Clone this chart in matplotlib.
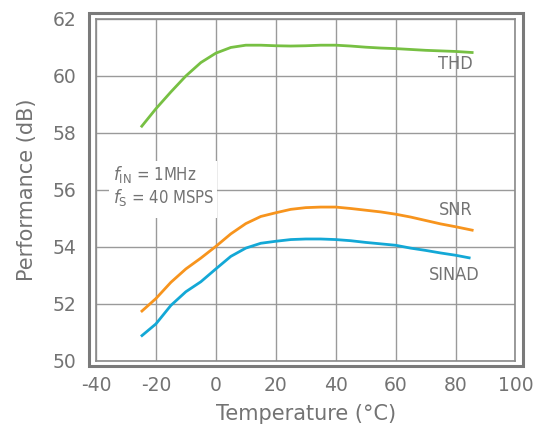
import matplotlib
matplotlib.use("Agg")
import matplotlib.pyplot as plt
from matplotlib.patches import Rectangle

plt.rcParams["axes.unicode_minus"] = False

# temperature (degC) and performance (dB)
temp_thd = [-25, -20, -15, -10, -5, 0, 5, 10, 15, 20, 25, 30, 35, 40, 45, 50,
            55, 60, 65, 70, 75, 80, 86]
thd = [58.2, 58.85, 59.44, 60.0, 60.47, 60.8, 61.0, 61.08, 61.08, 61.06, 61.05,
       61.06, 61.08, 61.08, 61.05, 61.01, 60.98, 60.96, 60.93, 60.9, 60.88,
       60.86, 60.82]

temp_snr = [-25, -20, -15, -10, -5, 0, 5, 10, 15, 20, 25, 30, 35, 40, 45, 50,
            55, 60, 65, 70, 75, 80, 86]
snr = [51.72, 52.19, 52.76, 53.23, 53.61, 54.02, 54.46, 54.82, 55.07, 55.2,
       55.32, 55.38, 55.4, 55.4, 55.35, 55.29, 55.23, 55.15, 55.05, 54.93,
       54.81, 54.71, 54.58]

temp_sinad = [-25, -20, -15, -10, -5, 0, 5, 10, 15, 20, 25, 30, 35, 40, 45, 50,
              55, 60, 65, 70, 75, 80, 85]
sinad = [50.86, 51.3, 51.95, 52.43, 52.78, 53.23, 53.67, 53.96, 54.13, 54.2,
         54.26, 54.28, 54.28, 54.26, 54.22, 54.16, 54.11, 54.06, 53.96, 53.88,
         53.79, 53.71, 53.61]

xticks = [-40, -20, 0, 20, 40, 60, 80, 100]
yticks = [50, 52, 54, 56, 58, 60, 62]

txt = "#737373"
grid_c = "#9a9a9a"

fig = plt.figure(figsize=(5.35, 4.32), dpi=100)
ax = fig.add_axes([0.1794, 0.1644, 0.7841, 0.7917])

ax.plot(temp_thd, thd, color="#77c043", lw=2.0, zorder=4, solid_capstyle="butt")
ax.plot(temp_snr, snr, color="#f7941d", lw=2.0, zorder=4, solid_capstyle="butt")
ax.plot(temp_sinad, sinad, color="#13a8d6", lw=2.0, zorder=4, solid_capstyle="butt")

ax.set_xlim(-40, 100)
ax.set_ylim(50, 62)
ax.set_xticks(xticks)
ax.set_yticks(yticks)
ax.grid(True, color=grid_c, lw=1.0, zorder=1)
ax.set_axisbelow(True)
ax.tick_params(length=0, labelsize=13.5, colors=txt)
ax.tick_params(axis="x", pad=11)
ax.tick_params(axis="y", pad=14)
for s in ax.spines.values():
    s.set_color("#8a8a8a")
    s.set_linewidth(1.2)

ax.set_xlabel("Temperature (\u00b0C)", fontsize=15, color=txt, labelpad=6)
ax.set_ylabel("Performance (dB)", fontsize=15, color=txt, labelpad=11)

# outer frame
fig.patches.append(Rectangle((0.1664, 0.1528), 0.8112, 0.8171, fill=False,
                             edgecolor="#7a7a7a", lw=2.2,
                             transform=fig.transFigure))

# white box behind the conditions note
ax.add_patch(Rectangle((-35.5, 55.0), 36, 2.0, facecolor="white",
                       edgecolor="none", zorder=2))
ax.text(-34.2, 56.53, r"$f_{\mathrm{IN}}$ = 1MHz", fontsize=12, color=txt,
        va="center", ha="left", zorder=3, stretch="condensed")
ax.text(-34.2, 55.72, r"$f_{\mathrm{S}}$ = 40 MSPS", fontsize=12, color=txt,
        va="center", ha="left", zorder=3, stretch="condensed")

ax.text(80, 60.41, "THD", fontsize=13, color=txt, ha="center", va="center",
        stretch="condensed")
ax.text(80, 55.31, "SNR", fontsize=13, color=txt, ha="center", va="center",
        stretch="condensed")
ax.text(79.7, 53.02, "SINAD", fontsize=13, color=txt, ha="center", va="center",
        stretch="condensed")

fig.savefig("out.png", dpi=100)
